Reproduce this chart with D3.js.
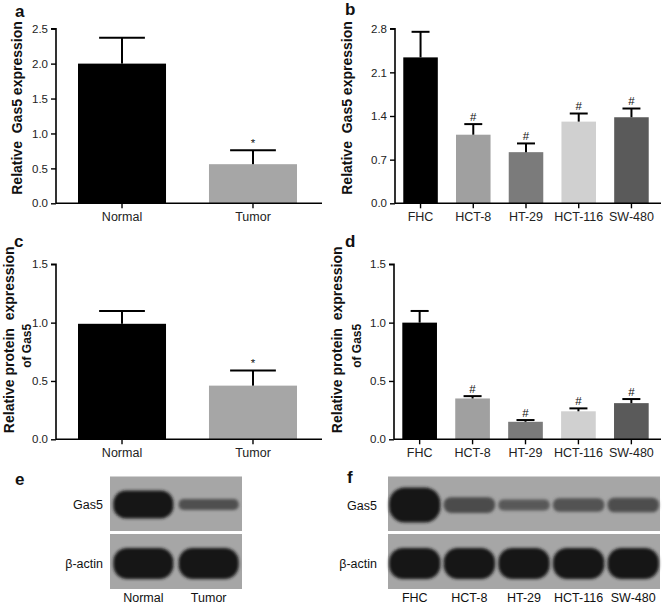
<!DOCTYPE html>
<html><head><meta charset="utf-8">
<script src="https://cdn.jsdelivr.net/npm/d3@7/dist/d3.min.js"></script>
<style>body{margin:0;background:#fff}svg{display:block}text{font-family:"Liberation Sans",Arial,sans-serif}</style>
</head><body>
<script>
// ---- data ----
const tissueCats = ["Normal", "Tumor"];
const cellCats = ["FHC", "HCT-8", "HT-29", "HCT-116", "SW-480"];
const tissueRNA = [2.00, 0.56];
const tissueRNAErr = [0.37, 0.20];
const cellRNA = [2.34, 1.10, 0.82, 1.31, 1.38];
const cellRNAErr = [0.41, 0.17, 0.14, 0.13, 0.14];
const tissueProt = [0.99, 0.46];
const tissueProtErr = [0.11, 0.13];
const cellProt = [1.00, 0.35, 0.15, 0.24, 0.31];
const cellProtErr = [0.10, 0.02, 0.015, 0.025, 0.035];
const tissueRNATicks = [0, 0.5, 1.0, 1.5, 2.0, 2.5];
const cellRNATicks = [0, 0.7, 1.4, 2.1, 2.8];
const protTicks = [0, 0.5, 1.0, 1.5];
const tissueMarks = ["", "*"];
const cellMarks = ["", "#", "#", "#", "#"];
const tissueColors = ["#000000", "#a6a6a6"];
const cellColors = ["#000000", "#a0a0a0", "#7b7b7b", "#d0d0d0", "#5a5a5a"];
const tissueGas5Band = [1.0, 0.40];
const tissueActinBand = [1.0, 1.0];
const cellGas5Band = [1.0, 0.45, 0.32, 0.38, 0.42];
const cellActinBand = [1.0, 1.0, 1.0, 1.0, 1.0];

const W = 662, H = 608;
const svg = d3.select("body").append("svg").attr("width", W).attr("height", H);
svg.append("rect").attr("width", W).attr("height", H).attr("fill", "#fff");

const defs = svg.append("defs");
defs.append("filter").attr("id", "blur").attr("x", "-20%").attr("y", "-40%").attr("width", "140%").attr("height", "180%")
  .append("feGaussianBlur").attr("stdDeviation", 1.6);

function barPanel(o) {
  const g = svg.append("g");
  const y = d3.scaleLinear().domain(o.domain).range([o.y0, o.y1]);
  const x = d3.scaleBand().domain(o.cats).range([o.x0, o.x1]).paddingInner(o.pi).paddingOuter(o.po);
  const bw = x.bandwidth();
  g.selectAll("rect.bar").data(o.cats).join("rect")
    .attr("x", d => x(d)).attr("width", bw)
    .attr("y", (d, i) => y(o.values[i])).attr("height", (d, i) => y(0) - y(o.values[i]))
    .attr("fill", (d, i) => o.colors[i]);
  const cw = bw * 0.52;
  o.cats.forEach((d, i) => {
    const cx = x(d) + bw / 2, top = y(o.values[i] + o.errs[i]);
    g.append("line").attr("x1", cx).attr("x2", cx).attr("y1", y(o.values[i])).attr("y2", top)
      .attr("stroke", "#000").attr("stroke-width", 2);
    g.append("line").attr("x1", cx - cw / 2).attr("x2", cx + cw / 2).attr("y1", top).attr("y2", top)
      .attr("stroke", "#000").attr("stroke-width", 2);
    if (o.marks[i]) {
      g.append("text").attr("x", cx).attr("y", top - 3.5)
        .attr("text-anchor", "middle").attr("font-size", 11.5)
        .attr("fill", "#111").text(o.marks[i]);
    }
  });
  const ya = g.append("g").attr("transform", `translate(${o.x0},0)`)
    .call(d3.axisLeft(y).tickValues(o.ticks).tickFormat(d3.format(".1f")).tickSize(5).tickPadding(3));
  ya.select(".domain").attr("stroke-width", 1.6).attr("d", `M-5,${y(o.domain[1])}H0V${y(0)}`);
  ya.selectAll(".tick line").attr("stroke-width", 1.4);
  ya.selectAll(".tick text").attr("font-size", 11.5).attr("fill", "#222").style("font-family", "Liberation Sans, Arial, sans-serif");
  const xa = g.append("g").attr("transform", `translate(0,${y(0)})`)
    .call(d3.axisBottom(x).tickSize(5).tickPadding(4));
  xa.select(".domain").attr("stroke-width", 1.6).attr("d", `M${o.x0},0H${o.xEnd}`);
  xa.selectAll(".tick line").attr("stroke-width", 1.4);
  xa.selectAll(".tick text").attr("font-size", 12.5).attr("fill", "#222").style("font-family", "Liberation Sans, Arial, sans-serif");
  const yc = (o.y0 + o.y1) / 2 + (o.labShift || 0);
  o.ylab.forEach((t, k) => {
    g.append("text").attr("transform", `translate(${o.labX[k]},${yc + (o.labDy ? o.labDy[k] : 0)}) rotate(-90)`)
      .attr("text-anchor", "middle").attr("font-size", o.labSize[k]).attr("font-weight", "bold").attr("fill", "#111")
      .style("white-space", "pre").attr("xml:space", "preserve").text(t);
  });
  g.append("text").attr("x", o.letterX).attr("y", o.letterY).attr("font-size", 17).attr("font-weight", "bold").attr("fill", "#111").text(o.letter);
}

barPanel({cats: tissueCats, values: tissueRNA, errs: tissueRNAErr, colors: tissueColors, marks: tissueMarks,
  domain: [0, 2.5], ticks: tissueRNATicks, y0: 203.3, y1: 28.7, x0: 56, x1: 319, xEnd: 322, pi: 0.328, po: 0.168,
  ylab: ["Relative  Gas5 expression"], labSize: [14], labX: [22], labShift: -8, letter: "a", letterX: 15, letterY: 17});
barPanel({cats: cellCats, values: cellRNA, errs: cellRNAErr, colors: cellColors, marks: cellMarks,
  domain: [0, 2.8], ticks: cellRNATicks, y0: 203.3, y1: 28.7, x0: 395, x1: 657, xEnd: 661, pi: 0.345, po: 0.157,
  ylab: ["Relative  Gas5 expression"], labSize: [14], labX: [352], labShift: -8, letter: "b", letterX: 345, letterY: 15});
barPanel({cats: tissueCats, values: tissueProt, errs: tissueProtErr, colors: tissueColors, marks: tissueMarks,
  domain: [0, 1.5], ticks: protTicks, y0: 439.3, y1: 264.3, x0: 56, x1: 319, xEnd: 322, pi: 0.328, po: 0.168,
  ylab: ["Relative protein  expression", "of Gas5"], labSize: [14, 12], labX: [14, 31], labDy: [-4, 2], labShift: -8,
  letter: "c", letterX: 14, letterY: 247});
barPanel({cats: cellCats, values: cellProt, errs: cellProtErr, colors: cellColors, marks: cellMarks,
  domain: [0, 1.5], ticks: protTicks, y0: 439.3, y1: 264.3, x0: 394, x1: 657, xEnd: 661, pi: 0.345, po: 0.157,
  ylab: ["Relative protein  expression", "of Gas5"], labSize: [14, 12], labX: [342, 361], labDy: [-4, 2], labShift: -8,
  letter: "d", letterX: 345, letterY: 247});

// ---- western blots ----
const shade = d3.scaleLinear().domain([0.3, 1]).range(["#5a5a5a", "#161616"]).clamp(true);
function blot(o) {
  const g = svg.append("g");
  const x = d3.scaleBand().domain(o.cats).range([o.x0, o.x1]).paddingInner(o.pi).paddingOuter(o.po);
  const rows = [{band: o.gas5, y0: 476.5, y1: 531, cy: o.gas5Cy, hMax: o.gas5H, name: "Gas5"},
                {band: o.actin, y0: 534, y1: 589, cy: 563.5, hMax: 31, name: "\u03b2-actin"}];
  rows.forEach(r => {
    g.append("rect").attr("x", o.x0).attr("y", r.y0).attr("width", o.x1 - o.x0).attr("height", r.y1 - r.y0).attr("fill", "#a6a6a6");
    const hScale = d3.scaleLinear().domain([0, 1]).range([0, r.hMax]);
    g.selectAll(null).data(o.cats).join("rect")
      .attr("x", d => x(d)).attr("width", x.bandwidth())
      .attr("y", (d, i) => r.cy - hScale(r.band[i]) / 2)
      .attr("height", (d, i) => hScale(r.band[i]))
      .attr("rx", (d, i) => Math.min(x.bandwidth() / 2, hScale(r.band[i]) / 2) * 0.9)
      .attr("fill", (d, i) => shade(r.band[i])).attr("filter", "url(#blur)");
    g.append("text").attr("x", o.labRight).attr("y", r.cy + 4.5).attr("text-anchor", "end").attr("font-size", 12.5).attr("fill", "#111").text(r.name);
  });
  g.selectAll(null).data(o.cats).join("text")
    .attr("x", d => x(d) + x.bandwidth() / 2).attr("y", 602).attr("text-anchor", "middle").attr("font-size", 12.5).attr("fill", "#111").text(d => d);
  g.append("text").attr("x", o.letterX).attr("y", o.letterY).attr("font-size", 17).attr("font-weight", "bold").attr("fill", "#111").text(o.letter);
}
blot({cats: tissueCats, gas5: tissueGas5Band, actin: tissueActinBand, x0: 110, x1: 242, pi: 0.08, po: 0.05,
  gas5Cy: 504.5, gas5H: 28, labRight: 103, letter: "e", letterX: 15, letterY: 485});
blot({cats: cellCats, gas5: cellGas5Band, actin: cellActinBand, x0: 388, x1: 660, pi: 0.06, po: 0.02,
  gas5Cy: 505, gas5H: 35, labRight: 377, letter: "f", letterX: 347, letterY: 483});
</script>
</body></html>
